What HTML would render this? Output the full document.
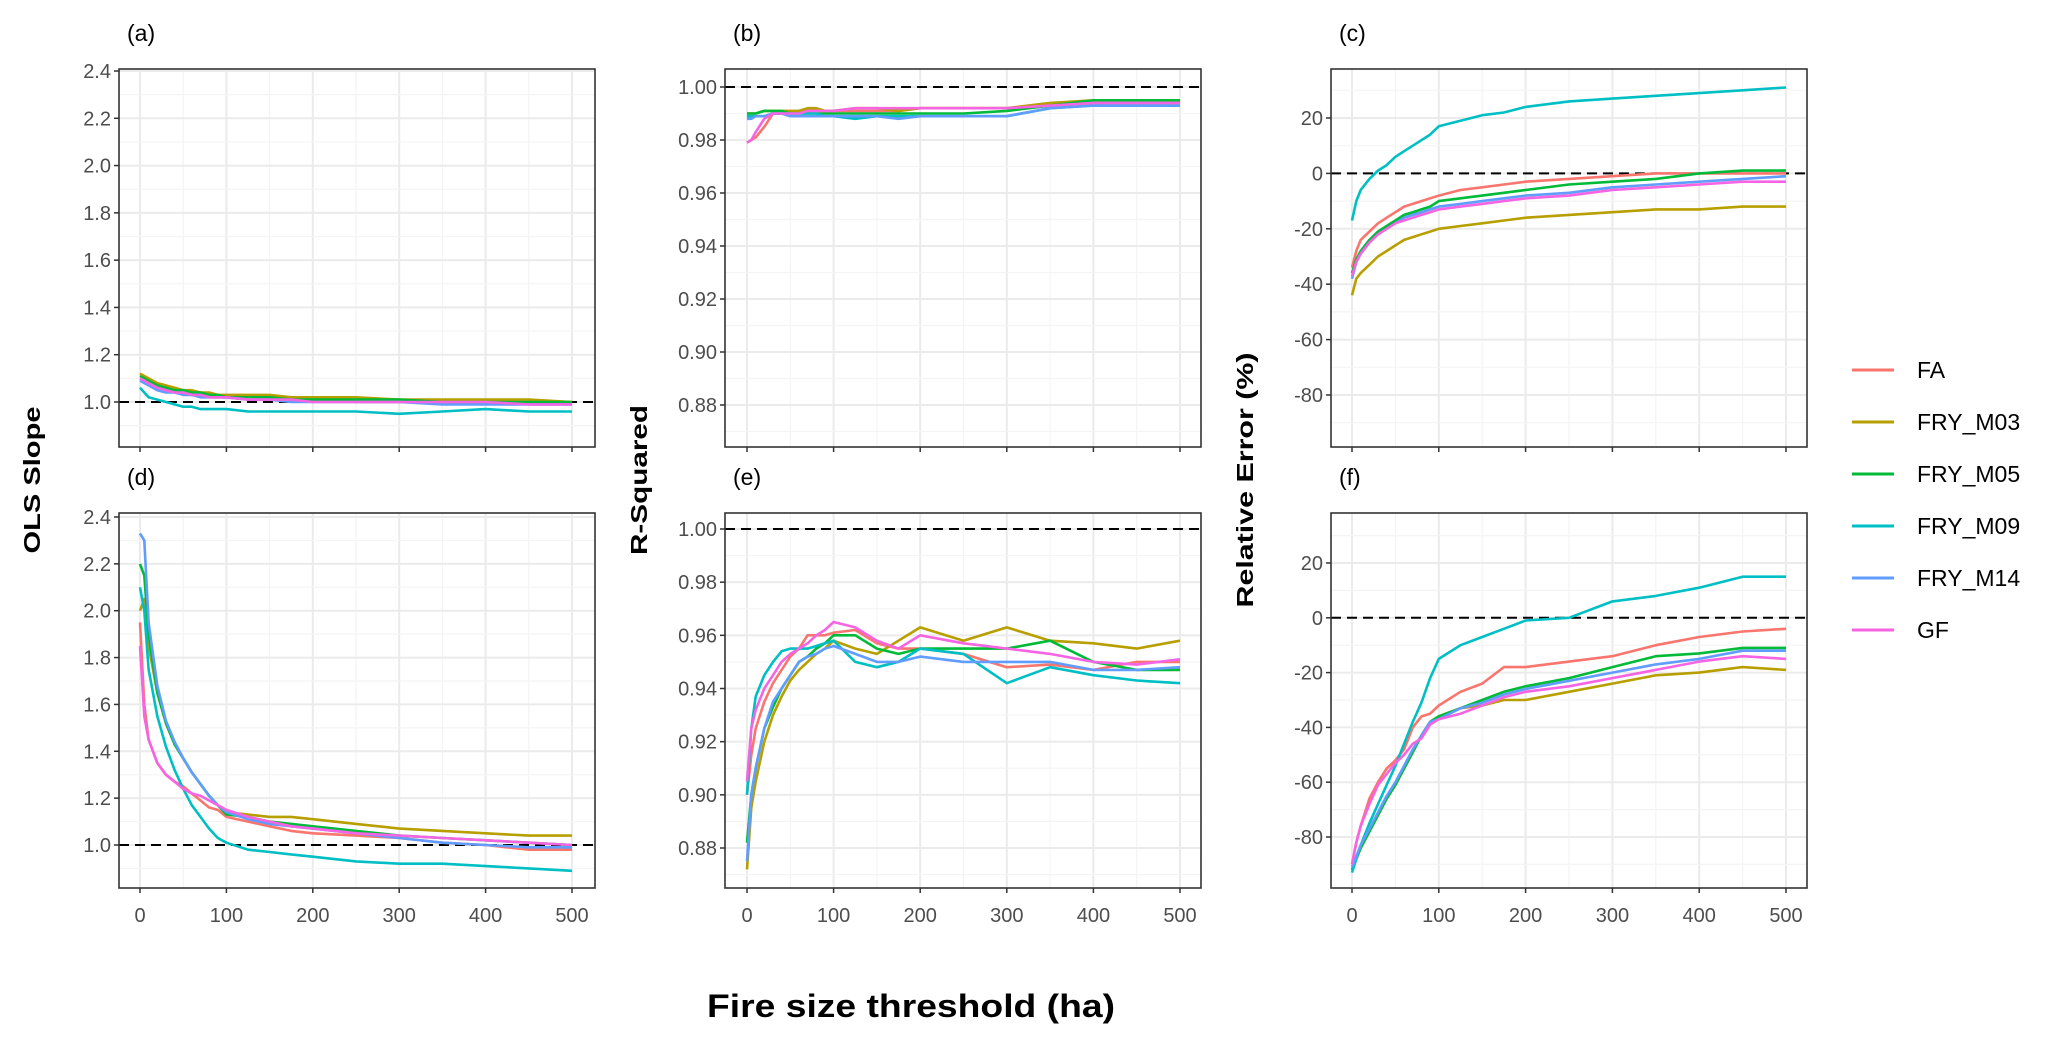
<!DOCTYPE html>
<html><head><meta charset="utf-8">
<style>
html,body{margin:0;padding:0;background:#fff;}
svg{display:block;font-family:"Liberation Sans",sans-serif;}
</style></head>
<body>
<svg id="chart" width="2067" height="1037" viewBox="0 0 2067 1037" xmlns="http://www.w3.org/2000/svg">
<rect width="2067" height="1037" fill="#fff"/>
<g id="panels"></g>
<text transform="translate(40,480) rotate(-90)" text-anchor="middle" font-size="23" font-weight="bold" textLength="147" lengthAdjust="spacingAndGlyphs">OLS Slope</text>
<text transform="translate(647,480) rotate(-90)" text-anchor="middle" font-size="23" font-weight="bold" textLength="150" lengthAdjust="spacingAndGlyphs">R-Squared</text>
<text transform="translate(1253,480) rotate(-90)" text-anchor="middle" font-size="23" font-weight="bold" textLength="255" lengthAdjust="spacingAndGlyphs">Relative Error (%)</text>
<text x="911" y="1017" text-anchor="middle" font-size="32" font-weight="bold" textLength="408" lengthAdjust="spacingAndGlyphs">Fire size threshold (ha)</text>
<g id="legend"></g>
</svg>
<script>
const xs = [0,5,10,20,30,40,50,60,70,80,90,100,125,150,175,200,250,300,350,400,450,500];
const seriesNames = ["FA","FRY_M03","FRY_M05","FRY_M09","FRY_M14","GF"];
const seriesColors = ["#F8766D","#B79F00","#00BA38","#00BFC4","#619CFF","#F564E3"];
const xTicks = [0,100,200,300,400,500];
const slopeTicks = ["1.0","1.2","1.4","1.6","1.8","2.0","2.2","2.4"];
const rsqTicks = ["0.88","0.90","0.92","0.94","0.96","0.98","1.00"];
const errTicks = ["-80","-60","-40","-20","0","20"];

const aFA=[1.10,1.09,1.08,1.06,1.05,1.04,1.04,1.03,1.03,1.02,1.02,1.02,1.01,1.01,1.01,1.01,1.00,1.00,1.00,1.00,1.00,1.00];
const aM03=[1.12,1.11,1.10,1.08,1.07,1.06,1.05,1.05,1.04,1.04,1.03,1.03,1.03,1.03,1.02,1.02,1.02,1.01,1.01,1.01,1.01,1.00];
const aM05=[1.11,1.10,1.09,1.07,1.06,1.05,1.05,1.04,1.04,1.03,1.03,1.02,1.02,1.02,1.01,1.01,1.01,1.01,1.00,1.00,1.00,1.00];
const aM09=[1.06,1.04,1.02,1.01,1.00,0.99,0.98,0.98,0.97,0.97,0.97,0.97,0.96,0.96,0.96,0.96,0.96,0.95,0.96,0.97,0.96,0.96];
const aM14=[1.09,1.08,1.07,1.05,1.04,1.04,1.03,1.03,1.02,1.02,1.02,1.02,1.01,1.01,1.00,1.00,1.00,1.00,0.99,0.99,0.99,0.99];
const aGF=[1.10,1.09,1.08,1.06,1.05,1.04,1.04,1.03,1.03,1.02,1.02,1.02,1.01,1.01,1.01,1.00,1.00,1.00,1.00,1.00,0.99,0.99];

const dFA=[1.95,1.60,1.45,1.35,1.30,1.27,1.25,1.22,1.19,1.16,1.15,1.12,1.10,1.08,1.06,1.05,1.04,1.03,1.01,1.00,0.98,0.98];
const dM03=[2.00,2.05,1.85,1.65,1.52,1.43,1.37,1.31,1.26,1.21,1.17,1.14,1.13,1.12,1.12,1.11,1.09,1.07,1.06,1.05,1.04,1.04];
const dM05=[2.20,2.15,1.90,1.65,1.52,1.43,1.37,1.31,1.26,1.21,1.17,1.13,1.12,1.10,1.09,1.08,1.06,1.04,1.03,1.02,1.01,1.00];
const dM09=[2.10,2.00,1.75,1.55,1.42,1.32,1.24,1.17,1.12,1.07,1.03,1.01,0.98,0.97,0.96,0.95,0.93,0.92,0.92,0.91,0.90,0.89];
const dM14=[2.33,2.30,1.95,1.68,1.53,1.44,1.37,1.31,1.26,1.21,1.17,1.14,1.11,1.09,1.08,1.07,1.05,1.03,1.01,1.00,0.99,0.99];
const dGF=[1.85,1.55,1.45,1.35,1.30,1.27,1.24,1.22,1.21,1.19,1.17,1.15,1.12,1.10,1.08,1.07,1.05,1.04,1.03,1.02,1.01,1.00];

const bFA=[.979,.980,.981,.985,.990,.990,.990,.991,.991,.991,.991,.991,.991,.991,.991,.992,.992,.992,.993,.994,.994,.994];
const bM03=[.990,.990,.990,.991,.991,.991,.991,.991,.992,.992,.991,.991,.992,.992,.991,.992,.992,.992,.994,.995,.995,.995];
const bM05=[.990,.990,.990,.991,.991,.991,.990,.990,.990,.990,.990,.990,.990,.990,.990,.990,.990,.991,.993,.995,.995,.995];
const bM09=[.989,.989,.989,.989,.990,.990,.990,.990,.990,.990,.989,.989,.988,.989,.989,.989,.989,.989,.992,.993,.993,.993];
const bM14=[.988,.988,.989,.989,.990,.990,.989,.989,.989,.989,.989,.989,.989,.989,.988,.989,.989,.989,.992,.993,.993,.993];
const bGF=[.979,.980,.983,.988,.990,.990,.990,.990,.991,.991,.991,.991,.992,.992,.992,.992,.992,.992,.993,.994,.994,.994];

const eFA=[.900,.915,.925,.935,.942,.947,.952,.955,.960,.960,.960,.961,.962,.957,.955,.955,.953,.948,.949,.947,.950,.950];
const eM03=[.872,.895,.905,.920,.930,.937,.943,.947,.950,.953,.955,.958,.955,.953,.958,.963,.958,.963,.958,.957,.955,.958];
const eM05=[.882,.900,.910,.925,.933,.940,.945,.950,.952,.955,.957,.960,.960,.955,.953,.955,.955,.955,.958,.950,.947,.947];
const eM09=[.900,.925,.937,.945,.950,.954,.955,.955,.955,.956,.957,.958,.950,.948,.950,.955,.953,.942,.948,.945,.943,.942];
const eM14=[.875,.900,.910,.925,.935,.940,.945,.950,.952,.953,.955,.956,.953,.950,.950,.952,.950,.950,.950,.947,.947,.948];
const eGF=[.905,.925,.932,.940,.945,.950,.953,.955,.957,.960,.962,.965,.963,.958,.955,.960,.957,.955,.953,.950,.949,.951];

const cFA=[-34,-28,-24,-21,-18,-16,-14,-12,-11,-10,-9,-8,-6,-5,-4,-3,-2,-1,0,0,0,0];
const cM03=[-44,-38,-36,-33,-30,-28,-26,-24,-23,-22,-21,-20,-19,-18,-17,-16,-15,-14,-13,-13,-12,-12];
const cM05=[-36,-31,-28,-24,-21,-19,-17,-15,-14,-13,-12,-10,-9,-8,-7,-6,-4,-3,-2,0,1,1];
const cM09=[-17,-10,-6,-2,1,3,6,8,10,12,14,17,19,21,22,24,26,27,28,29,30,31];
const cM14=[-38,-32,-29,-25,-22,-20,-18,-16,-15,-14,-13,-12,-11,-10,-9,-8,-7,-5,-4,-3,-2,-1];
const cGF=[-37,-32,-29,-25,-22,-20,-18,-17,-16,-15,-14,-13,-12,-11,-10,-9,-8,-6,-5,-4,-3,-3];

const fFA=[-90,-82,-76,-66,-60,-55,-52,-48,-40,-36,-35,-32,-27,-24,-18,-18,-16,-14,-10,-7,-5,-4];
const fM03=[-92,-88,-84,-78,-72,-66,-61,-55,-49,-43,-38,-36,-33,-32,-30,-30,-27,-24,-21,-20,-18,-19];
const fM05=[-92,-88,-84,-78,-72,-66,-61,-55,-49,-43,-38,-36,-33,-30,-27,-25,-22,-18,-14,-13,-11,-11];
const fM09=[-93,-88,-83,-75,-68,-61,-54,-46,-38,-31,-22,-15,-10,-7,-4,-1,0,6,8,11,15,15];
const fM14=[-91,-87,-83,-77,-71,-65,-60,-54,-48,-43,-38,-37,-33,-31,-28,-26,-23,-20,-17,-15,-12,-12];
const fGF=[-90,-82,-76,-68,-61,-57,-53,-50,-46,-44,-39,-37,-35,-32,-29,-27,-25,-22,-19,-16,-14,-15];

const NS="http://www.w3.org/2000/svg";
function mk(tag, attrs, parent){const e=document.createElementNS(NS,tag);for(const k in attrs)e.setAttribute(k,attrs[k]);if(parent)parent.appendChild(e);return e;}

const panels=[
 {id:"a",label:"(a)",box:[119,69,595,447],x0:140,x500:572,v1:1.0,p1:402,v2:2.4,p2:71,ticks:slopeTicks,minor:0.1,ref:1.0,data:[aFA,aM03,aM05,aM09,aM14,aGF]},
 {id:"d",label:"(d)",box:[119,513,595,888],x0:140,x500:572,v1:1.0,p1:845,v2:2.4,p2:517,ticks:slopeTicks,minor:0.1,ref:1.0,data:[dFA,dM03,dM05,dM09,dM14,dGF],xlabels:true},
 {id:"b",label:"(b)",box:[725,69,1201,447],x0:747,x500:1180,v1:0.88,p1:405,v2:1.0,p2:87,ticks:rsqTicks,minor:0.01,ref:1.0,data:[bFA,bM03,bM05,bM09,bM14,bGF]},
 {id:"e",label:"(e)",box:[725,513,1201,888],x0:747,x500:1180,v1:0.88,p1:848,v2:1.0,p2:529,ticks:rsqTicks,minor:0.01,ref:1.0,data:[eFA,eM03,eM05,eM09,eM14,eGF],xlabels:true},
 {id:"c",label:"(c)",box:[1331,69,1807,447],x0:1352,x500:1786,v1:-80,p1:395,v2:20,p2:118,ticks:errTicks,minor:10,ref:0,data:[cFA,cM03,cM05,cM09,cM14,cGF]},
 {id:"f",label:"(f)",box:[1331,513,1807,888],x0:1352,x500:1786,v1:-80,p1:837,v2:20,p2:563,ticks:errTicks,minor:10,ref:0,data:[fFA,fM03,fM05,fM09,fM14,fGF],xlabels:true}
];

const root=document.getElementById("panels");
panels.forEach(p=>{
  const g=mk("g",{},root);
  
  
  const [L,T,R,B]=p.box;
  const sx=v=>p.x0+(v/500)*(p.x500-p.x0);
  const sy=v=>p.p1+(v-p.v1)/(p.v2-p.v1)*(p.p2-p.p1);
  const cp=mk("clipPath",{id:"clip-"+p.id},g);
  mk("rect",{x:L,y:T,width:R-L,height:B-T},cp);
  // minor grid
  for(let v=-50;v<=550;v+=50){const x=sx(v);if(x>L&&x<R)mk("line",{x1:x,x2:x,y1:T,y2:B,stroke:(v%100===0)?"#ebebeb":"#f4f4f4","stroke-width":(v%100===0)?2:1.2},g);}
  const tv=p.ticks.map(Number);
  const lo=tv[0]-p.minor*4, hi=tv[tv.length-1]+p.minor*4;
  for(let k=0;;k++){const v=lo+k*p.minor; if(v>hi+1e-9)break; const y=sy(v); if(y>T&&y<B){const major=tv.some(t=>Math.abs(t-v)<1e-6);mk("line",{x1:L,x2:R,y1:y,y2:y,stroke:major?"#ebebeb":"#f4f4f4","stroke-width":major?2:1.2},g);}}
  // ref line
  const rl=mk("line",{x1:L,x2:R,y1:sy(p.ref),y2:sy(p.ref),stroke:"#000","stroke-width":2,"stroke-dasharray":"10,6"},g);
  
  
  // series
  const sg=mk("g",{"clip-path":"url(#clip-"+p.id+")"},g);
  p.data.forEach((arr,i)=>{
    const pts=arr.map((v,j)=>sx(xs[j]).toFixed(1)+","+sy(v).toFixed(1)).join(" ");
    const pl=mk("polyline",{points:pts,fill:"none",stroke:seriesColors[i],"stroke-width":2.6,"stroke-linejoin":"round"},sg);
    
    
  });
  // border
  mk("rect",{x:L,y:T,width:R-L,height:B-T,fill:"none",stroke:"#333","stroke-width":1.6},g);
  // y ticks
  p.ticks.forEach(t=>{
    const y=sy(Number(t));
    mk("line",{x1:L-5,x2:L,y1:y,y2:y,stroke:"#333","stroke-width":1.5},g);
    const tx=mk("text",{x:L-8,y:y+7,"text-anchor":"end","font-size":20,fill:"#4d4d4d"},g);
    tx.textContent=t;
    
    
  });
  // x ticks
  xTicks.forEach(t=>{
    const x=sx(t);
    mk("line",{x1:x,x2:x,y1:B,y2:B+5,stroke:"#333","stroke-width":1.5},g);
    if(p.xlabels){
      const tx=mk("text",{x:x,y:B+34,"text-anchor":"middle","font-size":20,fill:"#4d4d4d"},g);
      tx.textContent=t;
      
      
    }
  });
  const lb=mk("text",{x:L+8,y:T-28,"font-size":23,fill:"#000"},g);
  lb.textContent=p.label;
  
  
});

const lg=document.getElementById("legend");
seriesNames.forEach((n,i)=>{
  const y=370+i*52;
  const e=mk("g",{},lg);
  
  
  mk("line",{x1:1852,x2:1894,y1:y,y2:y,stroke:seriesColors[i],"stroke-width":3},e);
  const t=mk("text",{x:1917,y:y+8,"font-size":23,fill:"#000"},e);
  t.textContent=n;
});
</script>
</body></html>
